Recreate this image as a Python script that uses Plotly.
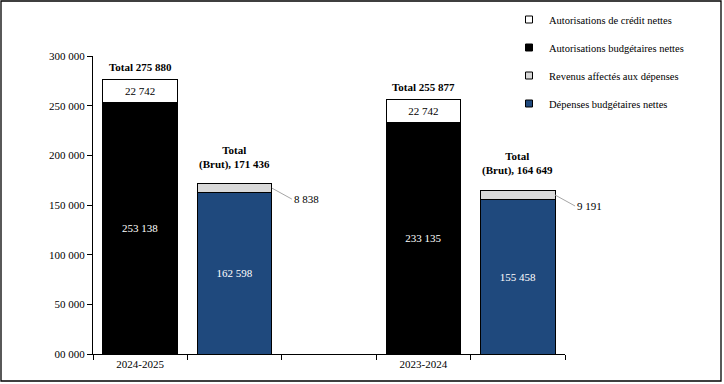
import plotly.graph_objects as go

# ---- data ----
categories = ["2024-2025", " ", "  ", "2023-2024", "   "]
credit_nettes = [22742, None, None, 22742, None]          # Autorisations de crédit nettes
budget_nettes = [253138, None, None, 233135, None]        # Autorisations budgétaires nettes
revenus_affectes = [None, 8838, None, None, 9191]         # Revenus affectés aux dépenses
depenses_nettes = [None, 162598, None, None, 155458]      # Dépenses budgétaires nettes
totals = [275880, 171436, None, 255877, 164649]
total_labels = ["Total 275 880", "Total<br>(Brut), 171 436", None,
                "Total 255 877", "Total<br>(Brut), 164 649"]
y_ticks = [0, 50000, 100000, 150000, 200000, 250000, 300000]
y_ticktext = ["00 000", "50 000", "100 000", "150 000", "200 000", "250 000", "300 000"]


def fmt(v):
    return None if v is None else f"{v:,}".replace(",", " ")


FONT = "Liberation Serif, Times New Roman, serif"
W, H = 724, 384
ML, MR, MT, MB = 93, 159, 56, 30
BAR_W = 0.79

fig = go.Figure()

common = dict(x=categories, width=BAR_W, textposition="inside",
              insidetextanchor="middle", hoverinfo="skip", showlegend=False,
              textfont=dict(family=FONT, size=11), cliponaxis=False)

series = [
    ("Dépenses budgétaires nettes", depenses_nettes, "#1F497D", "white", True),
    ("Revenus affectés aux dépenses", revenus_affectes, "#D9D9D9", "black", False),
    ("Autorisations budgétaires nettes", budget_nettes, "#000000", "white", True),
    ("Autorisations de crédit nettes", credit_nettes, "#FFFFFF", "black", True),
]
for name, vals, color, tcolor, labelled in series:
    fig.add_trace(go.Bar(name=name, y=vals,
                         text=[fmt(v) for v in vals] if labelled else None,
                         marker=dict(color=color, line=dict(color="#000000", width=1)),
                         insidetextfont=dict(family=FONT, size=11, color=tcolor),
                         **common))

# legend entries with small square swatches (same names / colours as the bars)
for rank, (name, vals, color, tcolor, labelled) in enumerate(reversed(series)):
    fig.add_trace(go.Scatter(x=[None], y=[None], mode="markers", name=name,
                             legendgroup=f"g{rank}", legendrank=rank + 1,
                             marker=dict(symbol="square", size=7, color=color,
                                         line=dict(color="black", width=1)),
                             hoverinfo="skip"))

# total labels above bars
for cat, tot, lab in zip(categories, totals, total_labels):
    if tot is None:
        continue
    fig.add_annotation(x=cat, y=tot, text=f"<b>{lab}</b>", showarrow=False,
                       yanchor="bottom", yshift=11 if "<br>" in lab else 5,
                       font=dict(family=FONT, size=11, color="black"))

# outside labels for revenus affectés with leader lines
half_px = BAR_W / 2 * (W - ML - MR) / len(categories)
for cat, dep, rev in zip(categories, depenses_nettes, revenus_affectes):
    if rev is None:
        continue
    fig.add_annotation(x=cat, y=dep + rev / 2, xshift=half_px, text=fmt(rev),
                       showarrow=True, arrowhead=0, arrowwidth=1, arrowcolor="#A6A6A6",
                       ax=20, ay=11, xanchor="left", standoff=0,
                       font=dict(family=FONT, size=11, color="black"))

# outer border around the whole picture
pw, ph = W - ML - MR, H - MT - MB
fig.add_shape(type="rect", xref="paper", yref="paper",
              x0=(1 - ML) / pw, x1=(W - 3 - ML) / pw,
              y0=-(MB - 3) / ph, y1=1 + (MT - 1) / ph,
              line=dict(color="black", width=1.3), fillcolor="rgba(0,0,0,0)", layer="below")

fig.update_layout(
    width=W, height=H,
    margin=dict(l=ML, r=MR, t=MT, b=MB, autoexpand=False),
    barmode="stack",
    plot_bgcolor="white", paper_bgcolor="white",
    font=dict(family=FONT, size=11, color="black"),
    showlegend=True,
    legend=dict(x=(509 - ML) / pw, xanchor="left", y=1 + (MT - 5) / ph, yanchor="top",
                font=dict(family=FONT, size=10.5, color="black"),
                tracegroupgap=9, bgcolor="rgba(0,0,0,0)", itemwidth=30),
    xaxis=dict(type="category", categoryorder="array", categoryarray=categories,
               range=[-0.5, 4.5], tickson="boundaries", ticks="outside", ticklen=5,
               tickcolor="black", showline=True, linecolor="black", linewidth=1,
               showgrid=False, zeroline=False, fixedrange=True,
               tickfont=dict(family=FONT, size=11, color="black")),
    yaxis=dict(range=[0, 300000], tickvals=y_ticks, ticktext=y_ticktext,
               ticks="outside", ticklen=5, tickcolor="black", showline=True,
               linecolor="black", linewidth=1, showgrid=False, zeroline=False,
               fixedrange=True,
               tickfont=dict(family=FONT, size=11, color="black")),
)

fig.write_html("out.html", config={"displayModeBar": False},
               post_script="document.body.style.margin='0';")
